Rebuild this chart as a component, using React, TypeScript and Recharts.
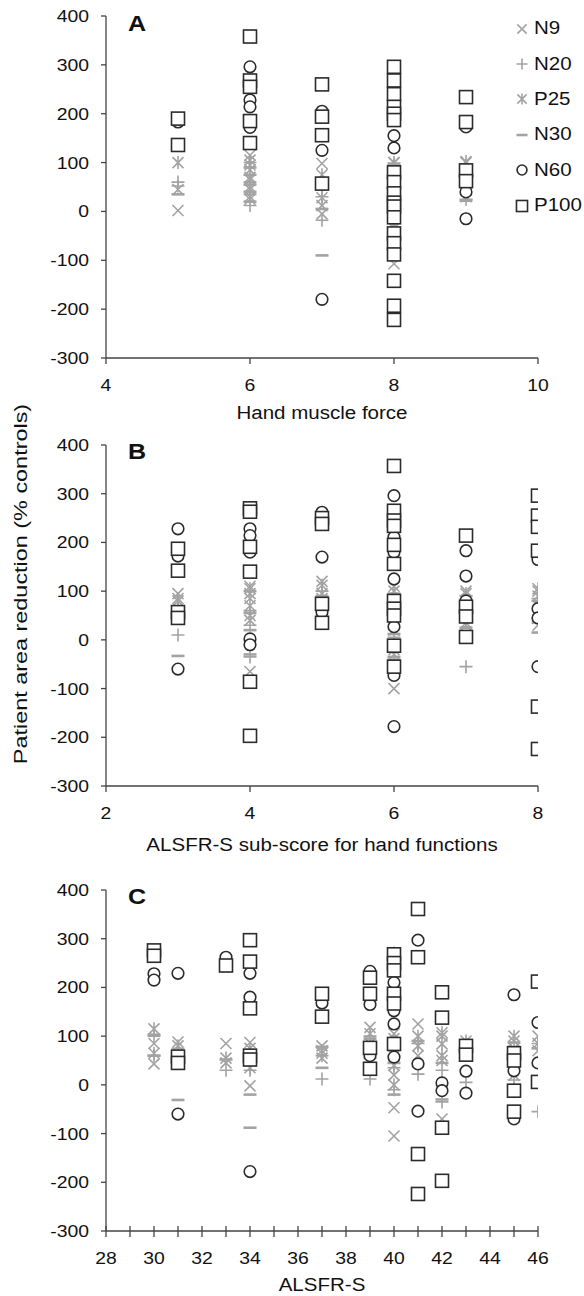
import React from "react";
import { ScatterChart, Scatter, XAxis, YAxis, Legend } from "recharts";

const FONT = '"Liberation Sans", Arial, Helvetica, sans-serif';
const SX = 1.14; // the source figure is a bit wider than tall
const GRAY = "#a3a3a3";
const INK = "#2b2b2b";
const AXIS = "#444";

type Pt = { x: number; y: number };
type Cols = Record<number, number[]>;

// A: hand muscle force
const aN9: Cols = { 5: [2, 45], 6: [115, 95, 70, 45, 25], 7: [98, 12, -5], 8: [100, 45, -30, -107], 9: [100, 30] };
const aN20: Cols = { 5: [60, 52], 6: [100, 60, 35, 12], 7: [30, -18], 8: [95, 20, -40], 9: [85, 25] };
const aP25: Cols = { 5: [100], 6: [105, 85, 65, 50, 30], 7: [75, 28], 8: [100, 55, 0, -35], 9: [102, 60] };
const aN30: Cols = { 5: [35], 6: [90, 75, 55, 40, 20], 7: [5, -90], 8: [98, 30, -35], 9: [70, 22] };
const aN60: Cols = { 5: [183], 6: [296, 228, 214, 172], 7: [205, 125, -180], 8: [155, 130], 9: [173, 40, -15] };
const aP100: Cols = {
  5: [190, 136],
  6: [358, 268, 255, 185, 140],
  7: [260, 194, 156, 57],
  8: [296, 268, 240, 214, 200, 187, 80, 60, 37, 18, 10, -12, -45, -65, -88, -142, -193, -222],
  9: [234, 183, 84, 62],
};

// B: ALSFR-S hand sub-score
const bN9: Cols = { 3: [95, 60], 4: [110, 85, 40, -65], 5: [120, 85], 6: [110, 60, 20, -30, -100], 7: [100, 30], 8: [100, 70, 30] };
const bN20: Cols = { 3: [10, 70], 4: [60, 30, -35], 5: [100], 6: [90, 40, 5, -40], 7: [85, -55], 8: [85, 45] };
const bP25: Cols = { 3: [80, 85], 4: [105, 95, 70, 50], 5: [112, 95], 6: [100, 70, 30, -20], 7: [95, 35], 8: [105, 90, 60] };
const bN30: Cols = { 3: [-33, 65], 4: [100, 55, 20, -30], 5: [90], 6: [95, 50, 12, -35], 7: [90, 25], 8: [80, 35, 15] };
const bN60: Cols = { 3: [228, 172, -60], 4: [228, 214, 180, 2, -10], 5: [262, 170, 57], 6: [296, 211, 180, 125, 27, -73, -178], 7: [183, 131, 80], 8: [165, 64, 45, -55] };
const bP100: Cols = {
  3: [187, 142, 57, 45],
  4: [270, 263, 191, 140, -86, -197],
  5: [250, 238, 74, 35],
  6: [357, 265, 245, 234, 195, 156, 80, 64, 50, -12, -55],
  7: [214, 68, 48, 6],
  8: [296, 255, 232, 183, -137, -224],
};

// C: ALSFR-S total
const cN9: Cols = { 30: [85, 43], 31: [88], 33: [85, 45], 34: [87, -2], 37: [80, 55], 39: [118, 85], 40: [105, 60, 20, -47, -105], 41: [125, 60], 42: [100, 50, -70], 45: [90, 20], 46: [100, 70] };
const cN20: Cols = { 30: [100, 60], 31: [75], 33: [30], 34: [45, 30], 37: [12, 60], 39: [12, 100], 40: [85, 35, -10], 41: [22, 85], 42: [30, -35], 43: [5], 45: [40, 10], 46: [-55, 85] };
const cP25: Cols = { 30: [115, 65], 31: [80], 33: [55], 34: [75, 35], 37: [70, 65], 39: [105, 70], 40: [95, 70, 40, 0], 41: [100, 80], 42: [107, 84, 60], 43: [90], 45: [100, 75], 46: [85] };
const cN30: Cols = { 30: [103, 60], 31: [-31], 33: [52], 34: [-20, -88], 37: [78, 35], 39: [95, 55], 40: [75, 45, -20], 41: [90, 45], 42: [45, -30], 43: [65], 45: [87, 45], 46: [75] };
const cN60: Cols = { 30: [228, 215], 31: [229, -60], 33: [262], 34: [229, 180, -178], 37: [168], 39: [233, 165, 60], 40: [270, 210, 152, 125, 57], 41: [297, 43, -54], 42: [4, -12], 43: [28, -17], 45: [185, 58, 29, -70], 46: [128, 45] };
const cP100: Cols = {
  30: [276, 265], 31: [58, 45], 33: [245], 34: [297, 253, 157, 60, 52], 37: [187, 140],
  39: [220, 187, 76, 33], 40: [268, 250, 235, 187, 167, 84], 41: [361, 262, -142, -224],
  42: [190, 138, -88, -197], 43: [80, 62], 45: [65, 50, -12, -55], 46: [212, 6],
};

const yTicks = [-300, -200, -100, 0, 100, 200, 300, 400];
const SERIES = [
  { name: "N9", kind: "x" },
  { name: "N20", kind: "+" },
  { name: "P25", kind: "*" },
  { name: "N30", kind: "-" },
  { name: "N60", kind: "o" },
  { name: "P100", kind: "s" },
];

const flat = (c: Cols): Pt[] =>
  Object.entries(c).flatMap(([x, ys]) => ys.map((y) => ({ x: Number(x), y })));

function Marker({ cx, cy, kind, k = 1 }: any) {
  if (cx == null || cy == null) return null;
  const g = { stroke: GRAY, strokeWidth: 1.6, fill: "none" };
  const a = 5.5 * k, b = 6.5 * k;
  switch (kind) {
    case "x":
      return <path d={`M${cx - a},${cy - a}L${cx + a},${cy + a}M${cx - a},${cy + a}L${cx + a},${cy - a}`} {...g} />;
    case "+":
      return <path d={`M${cx - b},${cy}H${cx + b}M${cx},${cy - b}V${cy + b}`} {...g} />;
    case "*":
      return <path d={`M${cx - a},${cy - a}L${cx + a},${cy + a}M${cx - a},${cy + a}L${cx + a},${cy - a}M${cx},${cy - b}V${cy + b}`} {...g} />;
    case "-":
      return <path d={`M${cx - b},${cy}H${cx + b}`} stroke={GRAY} strokeWidth={2.6} />;
    case "o":
      return <circle cx={cx} cy={cy} r={5.8 * k} stroke={INK} strokeWidth={1.6} fill="#fff" />;
    default:
      return <rect x={cx - 6.5 * k} y={cy - 6.5 * k} width={13 * k} height={13 * k} stroke={INK} strokeWidth={1.6} fill="#fff" />;
  }
}

const makeXTick = (cross: boolean) => (props: any) => {
  const { x, y, payload } = props;
  const v = payload.value;
  return (
    <g>
      <line x1={x} x2={x} y1={cross ? y - 5 : y} y2={y + 6} stroke={AXIS} strokeWidth={1.3} />
      {v % 2 === 0 && (
        <text transform={`translate(${x},${y + 33}) scale(${SX},1)`} textAnchor="middle" fontSize={17} fontFamily={FONT} fill="#111">
          {v}
        </text>
      )}
    </g>
  );
};

const YTick = (props: any) => {
  const { x, y, payload } = props;
  return (
    <text transform={`translate(${x},${y + 6}) scale(${SX},1)`} textAnchor="end" fontSize={17} fontFamily={FONT} fill="#111">
      {payload.value}
    </text>
  );
};

// keep the legend in series order (recharts sorts it by name otherwise)
const LegendBox = () => (
  <div style={{ fontFamily: FONT, fontSize: 18, color: "#111" }}>
    {SERIES.map((s) => (
      <div key={s.name} style={{ height: 35.4, display: "flex", alignItems: "center" }}>
        <svg width={14} height={14} style={{ overflow: "visible" }}>
          <Marker cx={7} cy={7} kind={s.kind} k={0.85} />
        </svg>
        <span style={{ marginLeft: 5, display: "inline-block", transform: `scaleX(${SX})`, transformOrigin: "left center" }}>
          {s.name}
        </span>
      </div>
    ))}
  </div>
);

type PanelProps = {
  top: number;
  height: number;
  marginTop: number;
  xAxisH: number;
  domain: [number, number];
  ticks: number[];
  cross?: boolean;
  sets: Cols[];
  legend?: boolean;
};

function Panel({ top, height, marginTop, xAxisH, domain, ticks, cross = false, sets, legend }: PanelProps) {
  return (
    <div style={{ position: "absolute", left: 0, top }}>
      <ScatterChart width={584} height={height} margin={{ top: marginTop, right: 46, bottom: 0, left: 0 }}>
        <XAxis
          type="number"
          dataKey="x"
          domain={domain}
          ticks={ticks}
          interval={0}
          height={xAxisH}
          tickSize={0}
          tickMargin={0}
          tickLine={false}
          tick={makeXTick(cross)}
          axisLine={{ stroke: AXIS, strokeWidth: 1.3 }}
          allowDataOverflow
        />
        <YAxis
          type="number"
          dataKey="y"
          domain={[-300, 400]}
          ticks={yTicks}
          interval={0}
          width={106}
          tickSize={5}
          tickMargin={12}
          tick={YTick}
          tickLine={{ stroke: AXIS, strokeWidth: 1.3 }}
          axisLine={{ stroke: AXIS, strokeWidth: 1.3 }}
          allowDataOverflow
        />
        {SERIES.map((s, i) => (
          <Scatter
            key={s.name}
            name={s.name}
            data={flat(sets[i])}
            shape={(p: any) => <Marker cx={p.cx} cy={p.cy} kind={s.kind} />}
            isAnimationActive={false}
          />
        ))}
        {legend && (
          <Legend
            layout="vertical"
            align="center"
            verticalAlign="middle"
            content={<LegendBox />}
            wrapperStyle={{ left: 515, top: 11, width: 69 }}
          />
        )}
      </ScatterChart>
    </div>
  );
}

const txt: React.CSSProperties = { position: "absolute", fontFamily: FONT, color: "#111", whiteSpace: "nowrap" };

function Letter({ ch, top }: { ch: string; top: number }) {
  return (
    <div style={{ ...txt, left: 128, top, fontSize: 22, fontWeight: "bold", lineHeight: "22px", transform: `scaleX(${SX})`, transformOrigin: "left" }}>
      {ch}
    </div>
  );
}

function XTitle({ text, cy }: { text: string; cy: number }) {
  return (
    <div style={{ ...txt, left: 106, width: 432, top: cy - 10, fontSize: 18, lineHeight: "20px", textAlign: "center", transform: `scaleX(${SX})` }}>
      {text}
    </div>
  );
}

export default function App() {
  return (
    <div style={{ position: "absolute", left: 0, top: 0, width: 584, height: 1296, background: "#fff" }}>
      <Panel top={0} height={430} marginTop={16} xAxisH={72} domain={[4, 10]} ticks={[4, 6, 8, 10]}
        sets={[aN9, aN20, aP25, aN30, aN60, aP100]} legend />
      <Panel top={430} height={426} marginTop={15} xAxisH={70} domain={[2, 8]} ticks={[2, 4, 6, 8]}
        sets={[bN9, bN20, bP25, bN30, bN60, bP100]} />
      <Panel top={856} height={440} marginTop={34} xAxisH={65} domain={[28, 46]}
        ticks={[28, 29, 30, 31, 32, 33, 34, 35, 36, 37, 38, 39, 40, 41, 42, 43, 44, 45, 46]} cross
        sets={[cN9, cN20, cP25, cN30, cN60, cP100]} />

      <Letter ch="A" top={13} />
      <Letter ch="B" top={441} />
      <Letter ch="C" top={886} />

      <XTitle text="Hand muscle force" cy={413} />
      <XTitle text="ALSFR-S sub-score for hand functions" cy={845} />
      <XTitle text="ALSFR-S" cy={1285} />

      <div style={{ ...txt, left: 21, top: 584, fontSize: 18, lineHeight: "20px", transform: "translate(-50%, -50%) rotate(-90deg) scaleX(1.3)" }}>
        Patient area reduction (% controls)
      </div>
    </div>
  );
}
